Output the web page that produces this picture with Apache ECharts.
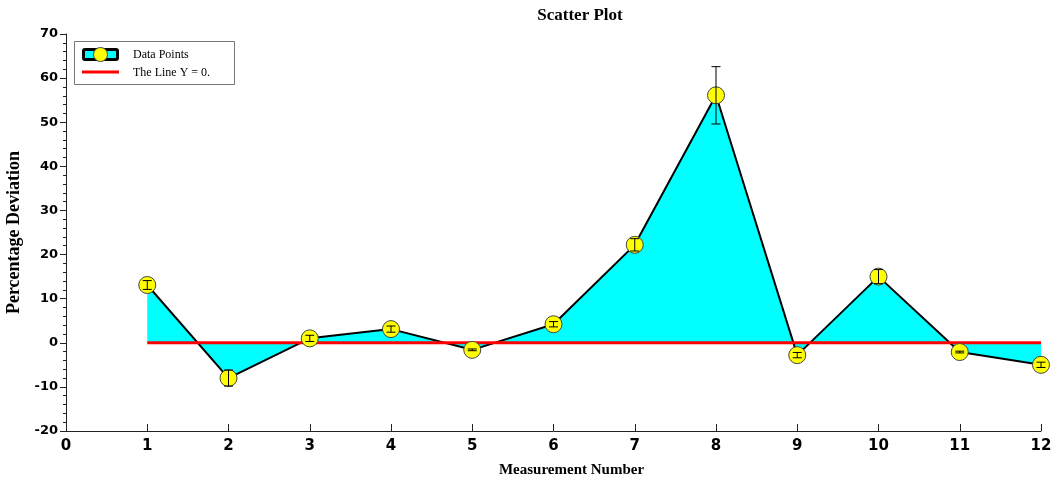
<!DOCTYPE html>
<html>
<head>
<meta charset="utf-8">
<script src="https://cdn.jsdelivr.net/npm/echarts@6/dist/echarts.min.js"></script>
<style>html,body{margin:0;padding:0;background:#fff;}#c{width:1063px;height:484px;}</style>
</head>
<body>
<div id="c"></div>
<script>
var measurement = [1, 2, 3, 4, 5, 6, 7, 8, 9, 10, 11, 12];
var deviation = [13.1, -8.0, 1.0, 3.1, -1.6, 4.2, 22.2, 56.1, -2.8, 15.0, -2.1, -5.0];
var errors = [1.0, 1.8, 0.7, 0.7, 0.2, 0.6, 1.4, 6.5, 0.6, 1.6, 0.2, 0.6];
var zeroLineX = [1, 12];
var zeroLineY = [0, 0];

var pts = measurement.map(function (x, i) { return [x, deviation[i]]; });
var errData = measurement.map(function (x, i) { return [x, deviation[i], errors[i]]; });
var zeroLine = zeroLineX.map(function (x, i) { return [x, zeroLineY[i]]; });

var chart = echarts.init(document.getElementById('c'));
var serif = '"Liberation Serif", "DejaVu Serif", serif';
var sans = '"DejaVu Sans", "Liberation Sans", sans-serif';

chart.setOption({
  animation: false,
  backgroundColor: '#ffffff',
  grid: { left: 66, right: 22, top: 34, bottom: 53, containLabel: false, outerBoundsMode: 'none' },
  xAxis: {
    type: 'value', min: 0, max: 12, interval: 1,
    axisLine: { onZero: false, lineStyle: { color: '#222', width: 1 } },
    axisTick: { inside: true, length: 7, lineStyle: { color: '#222' } },
    axisLabel: { color: '#000', fontFamily: sans, fontWeight: 'bold', fontSize: 15, margin: 8 },
    splitLine: { show: false },
    name: 'Measurement Number', nameLocation: 'middle', nameGap: 32,
    nameTextStyle: { fontFamily: serif, fontWeight: 'bold', fontSize: 15, color: '#000', padding: [0, 0, 0, 36] }
  },
  yAxis: {
    type: 'value', min: -20, max: 70, interval: 10,
    axisLine: { onZero: false, lineStyle: { color: '#222', width: 1 } },
    axisTick: { inside: false, length: 6, lineStyle: { color: '#222' } },
    minorTick: { show: true, splitNumber: 5, length: 3, lineStyle: { color: '#222' } },
    axisLabel: { color: '#000', fontFamily: sans, fontWeight: 'bold', fontSize: 13, margin: 8 },
    splitLine: { show: false },
    name: 'Percentage Deviation', nameLocation: 'middle', nameGap: 39,
    nameTextStyle: { fontFamily: serif, fontWeight: 'bold', fontSize: 18, color: '#000' }
  },
  title: {
    text: 'Scatter Plot', left: 575, top: 2, textAlign: 'center',
    textStyle: { fontFamily: serif, fontWeight: 'bold', fontSize: 17, color: '#000' }
  },
  graphic: [
    { type: 'rect', shape: { x: 74.5, y: 41.5, width: 160, height: 43 }, style: { fill: '#fff', stroke: '#777', lineWidth: 1 }, z: 100 },
    { type: 'rect', shape: { x: 82, y: 48, width: 37, height: 13, r: 3 }, style: { fill: '#000' }, z: 101 },
    { type: 'rect', shape: { x: 85, y: 51, width: 31, height: 7 }, style: { fill: '#00ffff' }, z: 102 },
    { type: 'circle', shape: { cx: 100.5, cy: 54.5, r: 7 }, style: { fill: '#ffff00', stroke: '#444', lineWidth: 1 }, z: 103 },
    { type: 'line', shape: { x1: 82, y1: 72, x2: 119, y2: 72 }, style: { stroke: '#ff0000', lineWidth: 3 }, z: 101 },
    { type: 'text', x: 133, y: 55, style: { text: 'Data Points', fontFamily: serif, fontSize: 12, fill: '#000', verticalAlign: 'middle' }, z: 101 },
    { type: 'text', x: 133, y: 73, style: { text: 'The Line Y = 0.', fontFamily: serif, fontSize: 12, fill: '#000', verticalAlign: 'middle' }, z: 101 }
  ],
  series: [
    {
      name: 'area', type: 'line', data: pts, showSymbol: false, z: 2,
      lineStyle: { color: '#000', width: 2 },
      areaStyle: { color: '#00ffff', opacity: 1, origin: 0 }
    },
    {
      name: 'The Line Y = 0.', type: 'line', data: zeroLine, showSymbol: false, z: 3,
      lineStyle: { color: '#ff0000', width: 3 }
    },
    {
      name: 'Data Points', type: 'scatter', data: pts, symbol: 'circle', symbolSize: 17, z: 4,
      itemStyle: { color: '#ffff00', borderColor: '#444', borderWidth: 1, opacity: 1 }
    },
    {
      name: 'errors', type: 'custom', data: errData, z: 5,
      renderItem: function (params, api) {
        var x = api.value(0), y = api.value(1), e = api.value(2);
        var top = api.coord([x, y + e]);
        var bot = api.coord([x, y - e]);
        var hw = 4.5;
        var st = { stroke: '#000', lineWidth: 1 };
        return {
          type: 'group',
          children: [
            { type: 'line', shape: { x1: top[0], y1: top[1], x2: bot[0], y2: bot[1] }, style: st },
            { type: 'line', shape: { x1: top[0] - hw, y1: top[1], x2: top[0] + hw, y2: top[1] }, style: st },
            { type: 'line', shape: { x1: bot[0] - hw, y1: bot[1], x2: bot[0] + hw, y2: bot[1] }, style: st }
          ]
        };
      }
    }
  ]
});
</script>
</body>
</html>
